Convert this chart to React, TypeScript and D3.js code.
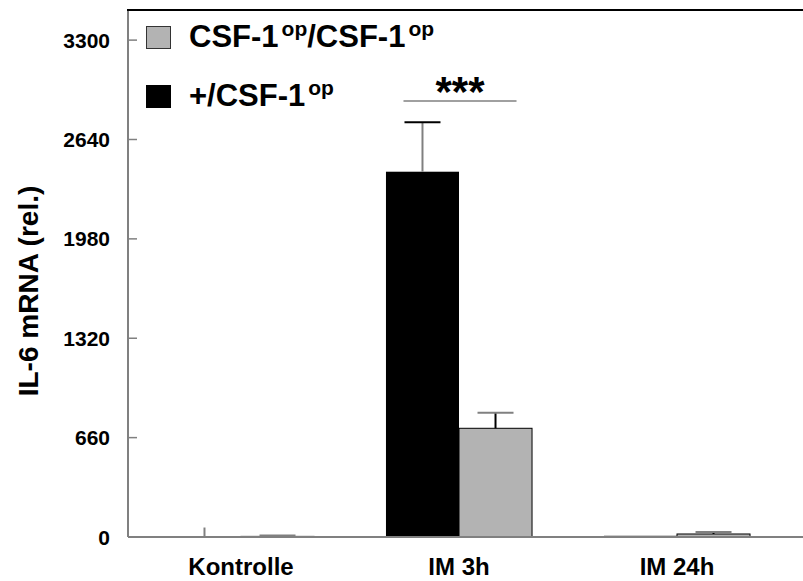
import React, { useEffect, useRef } from 'react';
import * as d3 from 'd3';

// groups on the x axis
const categories = ['Kontrolle', 'IM 3h', 'IM 24h'];
// +/CSF-1op (black bars)
const hetValues = [1, 2426, 8];
const hetErrors = [62, 328, 0];
// CSF-1op/CSF-1op (gray bars)
const opValues = [4, 722, 20];
const opErrors = [6, 103, 14];
const yTicks = [0, 660, 1320, 1980, 2640, 3300];
// significance bar over IM 3h
const sigGroup = 'IM 3h';
const sigLevel = 2895;
const sigLabel = '***';

const FONT = 'Arial, "Liberation Sans", Helvetica, sans-serif';

const App = () => {
  const svgRef = useRef<SVGSVGElement>(null);

  useEffect(() => {
    const svg = d3.select(svgRef.current);
    svg.selectAll('*').remove();

    const width = 803;
    const height = 581;
    const margin = { top: 10, right: 0, bottom: 44, left: 128 };

    const x = d3.scaleBand()
      .domain(categories)
      .range([132, 786])
      .paddingInner(0.33)
      .paddingOuter(0.165);

    const xSub = d3.scaleBand()
      .domain(['het', 'op'])
      .range([0, x.bandwidth()]);

    const y = d3.scaleLinear()
      .domain([0, 3500])
      .range([height - margin.bottom, margin.top]);

    const rows = categories.map((c, i) => ({
      cat: c,
      het: hetValues[i], hetErr: hetErrors[i],
      op: opValues[i], opErr: opErrors[i],
    }));

    // bars
    const g = svg.append('g');
    rows.forEach(d => {
      const x0 = x(d.cat)!;
      g.append('rect')
        .attr('x', x0 + xSub('het')!)
        .attr('y', y(d.het))
        .attr('width', xSub.bandwidth())
        .attr('height', y(0) - y(d.het))
        .attr('fill', '#000');
      g.append('rect')
        .attr('x', x0 + xSub('op')!)
        .attr('y', y(d.op))
        .attr('width', xSub.bandwidth())
        .attr('height', y(0) - y(d.op))
        .attr('fill', '#b3b3b3')
        .attr('stroke', '#000')
        .attr('stroke-width', 1);

      // error bars (upper only); tiny ones show as a bare stem
      const cap = 18;
      const hx = x0 + xSub('het')! + xSub.bandwidth() / 2;
      if (d.hetErr > 0) {
        g.append('line')
          .attr('x1', hx).attr('x2', hx)
          .attr('y1', y(d.het)).attr('y2', y(d.het + d.hetErr))
          .attr('stroke', '#808080').attr('stroke-width', 2);
        if (d.hetErr > 100) {
          g.append('line')
            .attr('x1', hx - cap).attr('x2', hx + cap)
            .attr('y1', y(d.het + d.hetErr)).attr('y2', y(d.het + d.hetErr))
            .attr('stroke', '#000').attr('stroke-width', 2);
        }
      }
      const ox = x0 + xSub('op')! + xSub.bandwidth() / 2;
      if (d.opErr > 0) {
        g.append('line')
          .attr('x1', ox).attr('x2', ox)
          .attr('y1', y(d.op)).attr('y2', y(d.op + d.opErr))
          .attr('stroke', '#000').attr('stroke-width', 2);
        g.append('line')
          .attr('x1', ox - cap).attr('x2', ox + cap)
          .attr('y1', y(d.op + d.opErr)).attr('y2', y(d.op + d.opErr))
          .attr('stroke', '#808080').attr('stroke-width', 2);
      }
    });

    // axes
    svg.append('line')
      .attr('x1', margin.left).attr('x2', width)
      .attr('y1', y(0)).attr('y2', y(0))
      .attr('stroke', '#808080').attr('stroke-width', 2);
    svg.append('line')
      .attr('x1', margin.left).attr('x2', margin.left)
      .attr('y1', y(3500)).attr('y2', y(0))
      .attr('stroke', '#808080').attr('stroke-width', 2);
    svg.append('line')
      .attr('x1', margin.left - 1).attr('x2', width)
      .attr('y1', y(3500)).attr('y2', y(3500))
      .attr('stroke', '#000').attr('stroke-width', 2);

    // y ticks pointing inward
    const yAxis = svg.append('g');
    yTicks.forEach(t => {
      if (t > 0) {
        yAxis.append('line')
          .attr('x1', margin.left).attr('x2', margin.left + 9)
          .attr('y1', y(t)).attr('y2', y(t))
          .attr('stroke', '#808080').attr('stroke-width', 1.5);
      }
      yAxis.append('text')
        .attr('x', 110)
        .attr('y', y(t))
        .attr('dy', '0.36em')
        .attr('text-anchor', 'end')
        .style('font-family', FONT)
        .style('font-size', '21px')
        .style('font-weight', 'bold')
        .text(String(t));
    });

    // x labels
    categories.forEach(c => {
      svg.append('text')
        .attr('x', x(c)! + x.bandwidth() / 2)
        .attr('y', 575)
        .attr('text-anchor', 'middle')
        .style('font-family', FONT)
        .style('font-size', '24px')
        .style('font-weight', 'bold')
        .text(c);
    });

    // y-axis label
    svg.append('text')
      .attr('transform', 'rotate(-90)')
      .attr('x', -291)
      .attr('y', 38)
      .attr('text-anchor', 'middle')
      .style('font-family', FONT)
      .style('font-size', '28px')
      .style('font-weight', 'bold')
      .text('IL-6 mRNA (rel.)');

    // significance
    const sx = x(sigGroup)!;
    const sx1 = sx + xSub('het')! + xSub.bandwidth() / 2 - 19;
    const sx2 = sx + xSub('op')! + xSub.bandwidth() / 2 + 21;
    svg.append('line')
      .attr('x1', sx1).attr('x2', sx2)
      .attr('y1', y(sigLevel)).attr('y2', y(sigLevel))
      .attr('stroke', '#808080').attr('stroke-width', 1.5);
    svg.append('text')
      .attr('x', (sx1 + sx2) / 2)
      .attr('y', y(sigLevel) + 5)
      .attr('text-anchor', 'middle')
      .style('font-family', FONT)
      .style('font-size', '42px')
      .style('font-weight', 'bold')
      .text(sigLabel);

    // legend
    const legend = [
      { fill: '#b3b3b3', stroke: '#333', base: 'CSF-1', sup: 'op', mid: '/CSF-1', sup2: 'op', y: 26 },
      { fill: '#000', stroke: '#000', base: '+/CSF-1', sup: 'op', mid: '', sup2: '', y: 85 },
    ];
    legend.forEach(l => {
      svg.append('rect')
        .attr('x', 146.5).attr('y', l.y + 0.5)
        .attr('width', 24).attr('height', 22)
        .attr('fill', l.fill)
        .attr('stroke', l.stroke).attr('stroke-width', 1);
      const t = svg.append('text')
        .attr('x', 189)
        .attr('y', l.y + 21)
        .style('font-family', FONT)
        .style('font-size', '31px')
        .style('font-weight', 'bold');
      t.append('tspan').text(l.base);
      t.append('tspan').attr('dx', 3).attr('dy', -11).style('font-size', '21px').text(l.sup);
      if (l.mid) {
        t.append('tspan').attr('dy', 11).text(l.mid);
        t.append('tspan').attr('dx', 3).attr('dy', -11).style('font-size', '21px').text(l.sup2);
      }
    });
  }, []);

  return (
    <svg
      ref={svgRef}
      width="803"
      height="581"
      style={{ position: 'absolute', left: 0, top: 0, background: '#fff' }}
    ></svg>
  );
};

export default App;
